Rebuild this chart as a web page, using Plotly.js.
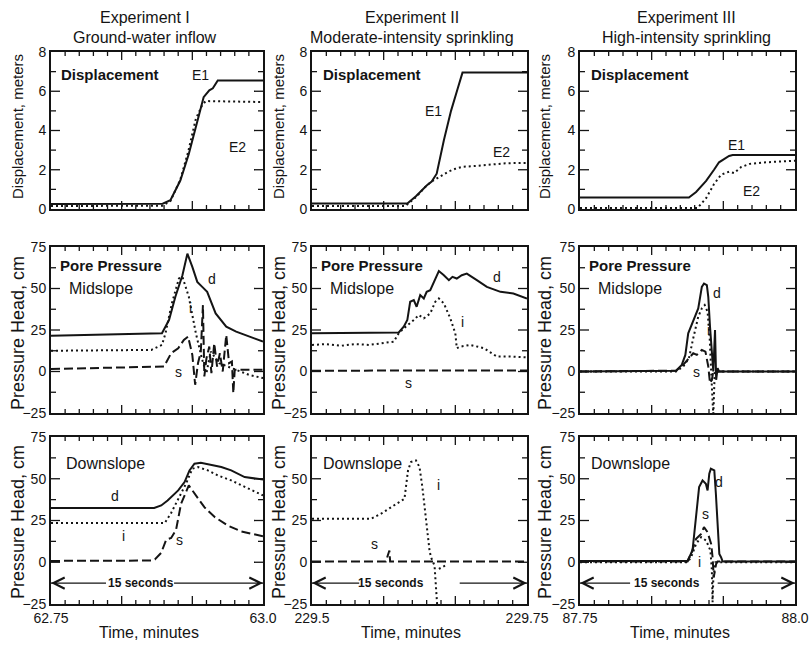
<!DOCTYPE html>
<html><head><meta charset="utf-8">
<script src="https://cdn.plot.ly/plotly-3.0.1.min.js"></script>
<style>html,body{margin:0;padding:0;background:#fff}</style>
</head><body><div id="chart" style="width:810px;height:647px"></div>
<script>
// ---------------- DATA ----------------
const startMinutes = [62.75, 229.5, 87.75];      // x-axis start (minutes)
const startLabels = ["62.75", "229.5", "87.75"];
const endLabels = ["63.0", "229.75", "88.0"];
const expTitles = ["Experiment I", "Experiment II", "Experiment III"];
const expSubtitles = ["Ground-water inflow", "Moderate-intensity sprinkling", "High-intensity sprinkling"];

// tick positions (seconds for x; axis units for y)
const xMajorSec = [5, 10];
const xMinorSec = [1, 2, 3, 4, 6, 7, 8, 9, 11, 12, 13, 14];
const dispMajor = [2, 4, 6];
const dispMinor = [1, 3, 5, 7];
const presMajor = [0, 25, 50];
const presMinor = [-12.5, 12.5, 37.5, 62.5];

// times are seconds after the start minute (15 s window)
// Experiment I - displacement (m)
const e1_E1_t = [0, 7.9, 8.45, 9.15, 9.75, 10.35, 10.8, 11.2, 11.45, 11.8, 15];
const e1_E1_v = [0.25, 0.27, 0.45, 1.45, 2.8, 4.5, 5.7, 6.05, 6.15, 6.55, 6.55];
const e1_E2_t = [0, 7.9, 8.45, 9.15, 9.7, 10.25, 10.7, 10.95, 15];
const e1_E2_v = [0.15, 0.17, 0.4, 1.5, 2.9, 4.6, 5.3, 5.5, 5.45];
// Experiment II - displacement
const e2_E1_t = [0, 6.65, 7.25, 8.0, 8.35, 8.7, 9.2, 9.7, 10.15, 10.5, 15];
const e2_E1_v = [0.28, 0.28, 0.65, 1.2, 1.4, 1.8, 3.5, 5.0, 6.1, 6.95, 6.95];
const e2_E2_t = [0, 6.5, 7.25, 8.0, 8.35, 8.6, 9.0, 9.5, 10.0, 10.5, 11.5, 12.5, 13.5, 15];
const e2_E2_v = [0.15, 0.15, 0.6, 1.2, 1.4, 1.5, 1.7, 1.9, 2.05, 2.15, 2.2, 2.28, 2.33, 2.35];
// Experiment III - displacement
const e3_E1_t = [0, 7.6, 8.1, 8.8, 9.35, 9.7, 10.05, 10.4, 10.65, 15];
const e3_E1_v = [0.58, 0.58, 0.87, 1.43, 2.0, 2.38, 2.54, 2.7, 2.75, 2.75];
const e3_E2_t = [0, 8.2, 8.8, 9.35, 9.85, 10.4, 10.75, 11.25, 11.85, 13.0, 15];
const e3_E2_v = [0.05, 0.05, 0.55, 1.27, 1.75, 1.9, 1.83, 2.14, 2.3, 2.38, 2.46];

// Midslope pore pressure (cm): d = deep, i = intermediate, s = shallow
const e1_mid_d_t = [0, 7.85, 8.35, 8.8, 9.3, 9.65, 10.0, 10.35, 10.7, 11.05, 11.65, 12.4, 13.1, 14.0, 15];
const e1_mid_d_v = [21.5, 23, 31, 45, 58, 71, 63, 54, 51, 48, 35, 27, 24, 21, 18];
const e1_mid_i_t = [0, 7.1, 7.85, 8.1, 8.55, 9.05, 9.3, 9.75, 10.25, 10.7, 11.0, 11.3, 11.9, 13.1, 14.0, 15];
const e1_mid_i_v = [12.5, 13, 16, 23, 41, 56, 57, 45, 23, 7, -1, 12, 5, 1, -2, -4];
const e1_mid_s_t = [0, 8.0, 8.5, 9.0, 9.4, 9.7, 10.0, 10.2, 10.4, 10.6, 10.75, 10.85, 11.0, 11.2, 11.35, 11.55, 11.75, 11.95, 12.15, 12.4, 12.6, 12.8, 12.9, 13.0, 15];
const e1_mid_s_v = [1.5, 3, 11, 14, 19, 21, 10, -8, 5, 12, 40, -3, 8, 15, -1, 17, 3, 11, 0, 22, 5, 6, -13, 1, 1];

const e2_mid_d_t = [0, 6.05, 6.4, 6.65, 6.85, 7.1, 7.3, 7.55, 7.8, 8.0, 8.25, 8.5, 8.85, 9.2, 9.55, 9.8, 10.1, 10.45, 10.8, 11.5, 12.2, 13.15, 14.05, 15];
const e2_mid_d_v = [23, 23.5, 27, 31, 42, 43, 39, 46, 44, 48, 49, 54, 60.5, 58, 55, 57, 56, 58, 59, 55, 51, 48, 47, 44];
const e2_mid_i_t = [0, 1, 2, 3, 4, 5, 5.7, 6.05, 6.4, 7.1, 7.45, 7.8, 8.25, 8.6, 8.85, 9.2, 9.65, 10.0, 10.1, 10.35, 11.05, 12.0, 12.9, 13.85, 15];
const e2_mid_i_v = [16, 16.5, 15.5, 16.5, 16, 17, 18, 23, 26, 31, 34, 32, 35, 42, 44, 41, 32, 23, 14, 15, 16, 14, 9, 9, 8.5];
const e2_mid_s_t = [0, 3, 6, 9, 12, 15];
const e2_mid_s_v = [0.5, 0.6, 0.4, 0.6, 0.5, 0.6];

const e3_mid_d_t = [0, 6.7, 7.1, 7.35, 7.55, 7.9, 8.25, 8.5, 8.65, 8.85, 8.95, 9.07, 9.2, 9.3, 9.42, 9.5, 9.6, 9.7, 15];
const e3_mid_d_v = [0, 0.5, 4, 10, 23, 31, 38, 51, 53, 52, 45, 27, 9, 0, 25, -5, 2, 0, 0];
const e3_mid_i_t = [0, 6.7, 7.2, 7.6, 7.9, 8.25, 8.5, 8.7, 8.9, 9.05, 9.15, 9.25, 9.3, 9.4, 9.6, 15];
const e3_mid_i_v = [0, 0, 3, 8, 20, 33, 38, 40, 36, 20, 0, -25, -27, 0, 0, 0];
const e3_mid_s_t = [0, 6.7, 7.2, 7.6, 7.9, 8.15, 8.5, 8.75, 8.95, 9.07, 9.2, 9.3, 15];
const e3_mid_s_v = [0, 0.5, 4, 8, 11, 10, 13, 12, 3, -7, -5, 0, 0];

// Downslope pore pressure (cm)
const e1_down_d_t = [0, 7.3, 7.8, 8.25, 9.0, 9.45, 9.8, 10.15, 10.6, 11.35, 12.05, 12.75, 13.7, 15];
const e1_down_d_v = [32.5, 32.5, 34, 37, 43, 48, 55, 59, 59.5, 58, 57, 55, 51, 49.5];
const e1_down_i_t = [0, 8.05, 8.5, 9.1, 9.55, 10.0, 10.4, 11.1, 11.8, 12.75, 13.7, 15];
const e1_down_i_v = [23.5, 23.5, 29.5, 39, 47, 56, 57, 55, 52, 49, 45, 40];
const e1_down_s_t = [0, 7.1, 7.35, 7.8, 8.15, 8.5, 8.85, 9.2, 9.75, 10.15, 10.85, 11.6, 12.5, 13.45, 14.5, 15];
const e1_down_s_v = [0.8, 1, 1.7, 5.7, 13.5, 14.5, 19.5, 35, 46, 41, 33, 27, 22, 18.5, 16.5, 15.5];

const e2_down_i_t = [0, 4.1, 4.8, 5.5, 6.2, 6.45, 6.7, 6.9, 7.25, 7.5, 7.7, 7.95, 8.1, 8.2, 8.3, 8.55, 8.65, 8.75, null, 8.85, 9.3];
const e2_down_i_v = [26, 26, 29, 33, 37, 38, 55, 60, 61, 57, 45, 25, 15, 7, 3, -2, -15, -28, null, -4, -2];
const e2_down_s_t = [0, 5.15, 5.4, 5.45, 15];
const e2_down_s_v = [0.5, 0.5, 7, 0.5, 0.5];

const e3_down_d_t = [0, 7.5, 7.85, 8.08, 8.31, 8.55, 8.78, 8.9, 9.02, 9.13, 9.37, 9.48, 9.6, 9.72, 9.84, 9.95, 15];
const e3_down_d_v = [0.8, 0.8, 7, 25, 45, 49, 47, 43, 53, 56, 55, 41, 21, 5, 3, 0.5, 0.5];
const e3_down_s_t = [0, 7.5, 7.75, 8.1, 8.45, 8.65, 8.9, 9.15, 9.25, 9.33, 9.5, 9.6, 15];
const e3_down_s_v = [0.5, 0.5, 5, 14, 17, 21, 18, 11, 3, -9, -1, 0.5, 0.5];
const e3_down_i_t = [0, 7.5, 7.75, 8.1, 8.45, 8.8, 9.1, 9.2, 9.25, 9.3, 9.45, 15];
const e3_down_i_v = [0, 0, 3, 11, 15, 13, 7, -5, -24, -10, 0, 0];

// in-plot labels: [text, seconds, value]
const labels = [
  [[["E1", 10.6, 6.85], ["E2", 13.2, 3.15]], [["d", 11.4, 56], ["i", 9.9, 38], ["s", 9.05, 0]], [["d", 4.5, 39.8], ["i", 5.1, 15.6], ["s", 9.1, 13.6]]],
  [[["E1", 8.5, 5.0], ["E2", 13.2, 2.9]], [["d", 12.9, 57], ["i", 10.47, 30], ["s", 6.74, -7]], [["s", 4.33, 11], ["i", 8.8, 46]]],
  [[["E1", 10.9, 3.25], ["E2", 11.95, 0.9]], [["d", 9.53, 47], ["i", 8.95, 25], ["s", 8.14, 0]], [["d", 9.72, 48], ["s", 8.78, 29], ["i", 8.31, 0]]]
];
const secondsTextT = [6.35, 5.5, 6.1];
const arrowLeftTail = [4.0, 3.4, 3.6];
const arrowRightTail = [8.6, 10.2, 9.5];

// ---------------- BUILD ----------------
const INK = '#141414';
const FONT = 'Liberation Sans, Arial, Helvetica, sans-serif';
const styles = {
  solid: {color: INK, width: 2},
  dot: {color: INK, width: 2, dash: '2px,3px'},
  dash: {color: INK, width: 2, dash: '9px,4px'}
};
const series = [
  [0, 0, e1_E1_t, e1_E1_v, 'solid'], [0, 0, e1_E2_t, e1_E2_v, 'dot'],
  [1, 0, e2_E1_t, e2_E1_v, 'solid'], [1, 0, e2_E2_t, e2_E2_v, 'dot'],
  [2, 0, e3_E1_t, e3_E1_v, 'solid'], [2, 0, e3_E2_t, e3_E2_v, 'dot'],
  [0, 1, e1_mid_d_t, e1_mid_d_v, 'solid'], [0, 1, e1_mid_i_t, e1_mid_i_v, 'dot'], [0, 1, e1_mid_s_t, e1_mid_s_v, 'dash'],
  [1, 1, e2_mid_d_t, e2_mid_d_v, 'solid'], [1, 1, e2_mid_i_t, e2_mid_i_v, 'dot'], [1, 1, e2_mid_s_t, e2_mid_s_v, 'dash'],
  [2, 1, e3_mid_d_t, e3_mid_d_v, 'solid'], [2, 1, e3_mid_i_t, e3_mid_i_v, 'dot'], [2, 1, e3_mid_s_t, e3_mid_s_v, 'dash'],
  [0, 2, e1_down_d_t, e1_down_d_v, 'solid'], [0, 2, e1_down_i_t, e1_down_i_v, 'dot'], [0, 2, e1_down_s_t, e1_down_s_v, 'dash'],
  [1, 2, e2_down_i_t, e2_down_i_v, 'dot'], [1, 2, e2_down_s_t, e2_down_s_v, 'dash'],
  [2, 2, e3_down_d_t, e3_down_d_v, 'solid'], [2, 2, e3_down_s_t, e3_down_s_v, 'dash'], [2, 2, e3_down_i_t, e3_down_i_v, 'dot']
];

function axId(col, row) { const k = row * 3 + col + 1; return k === 1 ? '' : String(k); }
function toMin(col, s) { return s === null ? null : startMinutes[col] + s / 60; }

const W = 810, H = 647;
const xPix = [[51, 263], [312, 527], [580, 795]];
const yPix = [[52, 209], [247, 413], [437, 604]];

const traces = series.map(([col, row, t, v, st]) => ({
  type: 'scatter', mode: 'lines', x: t.map(s => toMin(col, s)), y: v,
  xaxis: 'x' + axId(col, row), yaxis: 'y' + axId(col, row),
  line: Object.assign({}, styles[st]), hoverinfo: 'skip', connectgaps: false
}));

const layout = {
  width: W, height: H, margin: {l: 0, r: 0, t: 0, b: 0},
  showlegend: false,
  font: {family: FONT, color: INK, size: 14},
  annotations: []
};

for (let col = 0; col < 3; col++) {
  for (let row = 0; row < 3; row++) {
    const id = axId(col, row);
    const s0 = startMinutes[col];
    const xr = 'x' + id, yr = 'y' + id;
    const isDisp = row === 0;
    const yRange = isDisp ? [0, 8] : [-25, 75];
    const xRange = [s0, s0 + 15 / 60];
    layout['xaxis' + id] = {
      domain: [xPix[col][0] / W, xPix[col][1] / W], anchor: yr,
      range: xRange, tickmode: 'array', tickvals: [s0, s0 + 15 / 60],
      ticktext: [startLabels[col], endLabels[col]], showticklabels: row === 2,
      ticks: '', showline: true, linewidth: 2, linecolor: INK, mirror: true,
      showgrid: false, zeroline: false
    };
    layout['yaxis' + id] = {
      domain: [1 - yPix[row][1] / H, 1 - yPix[row][0] / H], anchor: xr,
      range: yRange, tick0: isDisp ? 0 : -25, dtick: isDisp ? 2 : 25,
      ticks: '', showline: true, linewidth: 2, linecolor: INK, mirror: true,
      showgrid: false, zeroline: false
    };
    // inside tick marks on all four sides (drawn as a line trace on the subplot's own axes)
    const pxPerMin = (xPix[col][1] - xPix[col][0]) / (xRange[1] - xRange[0]);
    const pxPerY = (yPix[row][1] - yPix[row][0]) / (yRange[1] - yRange[0]);
    const tx = [], ty = [];
    [[xMajorSec, 8], [xMinorSec, 4]].forEach(([arr, len]) => arr.forEach(s => {
      const xv = toMin(col, s), dy = len / pxPerY;
      tx.push(xv, xv, null, xv, xv, null);
      ty.push(yRange[0], yRange[0] + dy, null, yRange[1], yRange[1] - dy, null);
    }));
    [[isDisp ? dispMajor : presMajor, 9], [isDisp ? dispMinor : presMinor, 5]].forEach(([arr, len]) => arr.forEach(v => {
      const dx = len / pxPerMin;
      tx.push(xRange[0], xRange[0] + dx, null, xRange[1], xRange[1] - dx, null);
      ty.push(v, v, null, v, v, null);
    }));
    traces.push({type: 'scatter', mode: 'lines', x: tx, y: ty, xaxis: xr, yaxis: yr,
      line: {color: INK, width: 1.3}, hoverinfo: 'skip', connectgaps: false});

    if (row === 0) {
      layout.annotations.push({xref: xr, yref: yr, x: toMin(col, 0.6), y: 6.85, xanchor: 'left', yanchor: 'middle',
        text: '<b>Displacement</b>', showarrow: false, font: {size: 15}});
    } else if (row === 1) {
      layout.annotations.push({xref: xr, yref: yr, x: toMin(col, 0.5), y: 64, xanchor: 'left', yanchor: 'middle',
        text: '<b>Pore Pressure</b>', showarrow: false, font: {size: 15}});
      layout.annotations.push({xref: xr, yref: yr, x: toMin(col, 1.15), y: 50, xanchor: 'left', yanchor: 'middle',
        text: 'Midslope', showarrow: false, font: {size: 16}});
    } else {
      layout.annotations.push({xref: xr, yref: yr, x: toMin(col, col === 0 ? 0.95 : 0.6), y: 59, xanchor: 'left', yanchor: 'middle',
        text: 'Downslope', showarrow: false, font: {size: 16}});
    }
    labels[col][row].forEach(([txt, t, v]) => {
      layout.annotations.push({xref: xr, yref: yr, x: toMin(col, t), y: v, text: txt, showarrow: false,
        xanchor: 'center', yanchor: 'middle', font: {size: 14}});
    });
    if (row === 2) {
      layout.annotations.push({xref: xr, yref: yr, x: toMin(col, 0), y: -12.5, ax: toMin(col, arrowLeftTail[col]), ay: -12.5,
        axref: xr, ayref: yr, text: '', showarrow: true, arrowhead: 5, arrowsize: 1.7, arrowwidth: 1.3, arrowcolor: INK, standoff: 0});
      layout.annotations.push({xref: xr, yref: yr, x: toMin(col, 15), y: -12.5, ax: toMin(col, arrowRightTail[col]), ay: -12.5,
        axref: xr, ayref: yr, text: '', showarrow: true, arrowhead: 5, arrowsize: 1.7, arrowwidth: 1.3, arrowcolor: INK, standoff: 0});
      layout.annotations.push({xref: xr, yref: yr, x: toMin(col, secondsTextT[col]), y: -12.5, text: '<b>15 seconds</b>',
        showarrow: false, font: {size: 12}, xanchor: 'center', yanchor: 'middle'});
    }
  }
}

const titleX = [145, 412, 686];
const yTitleX = [18, 279, 545];
for (let col = 0; col < 3; col++) {
  layout.annotations.push({xref: 'paper', yref: 'paper', x: titleX[col] / W, y: 1 - 18 / H, text: expTitles[col],
    showarrow: false, font: {size: 16}, xanchor: 'center', yanchor: 'middle'});
  layout.annotations.push({xref: 'paper', yref: 'paper', x: titleX[col] / W, y: 1 - 38 / H, text: expSubtitles[col],
    showarrow: false, font: {size: 16}, xanchor: 'center', yanchor: 'middle'});
  layout.annotations.push({xref: 'paper', yref: 'paper', x: yTitleX[col] / W, y: 1 - 127 / H, text: 'Displacement, meters',
    showarrow: false, textangle: -90, font: {size: 15}, xanchor: 'center', yanchor: 'middle'});
  layout.annotations.push({xref: 'paper', yref: 'paper', x: yTitleX[col] / W, y: 1 - 333 / H, text: 'Pressure Head, cm',
    showarrow: false, textangle: -90, font: {size: 18}, xanchor: 'center', yanchor: 'middle'});
  layout.annotations.push({xref: 'paper', yref: 'paper', x: yTitleX[col] / W, y: 1 - 522 / H, text: 'Pressure Head, cm',
    showarrow: false, textangle: -90, font: {size: 18}, xanchor: 'center', yanchor: 'middle'});
  layout.annotations.push({xref: 'paper', yref: 'paper', x: ((xPix[col][0] + xPix[col][1]) / 2 - 8) / W, y: 1 - 632 / H,
    text: 'Time, minutes', showarrow: false, font: {size: 16}, xanchor: 'center', yanchor: 'middle'});
}

Plotly.newPlot('chart', traces, layout, {staticPlot: true, displayModeBar: false});
</script></body></html>
